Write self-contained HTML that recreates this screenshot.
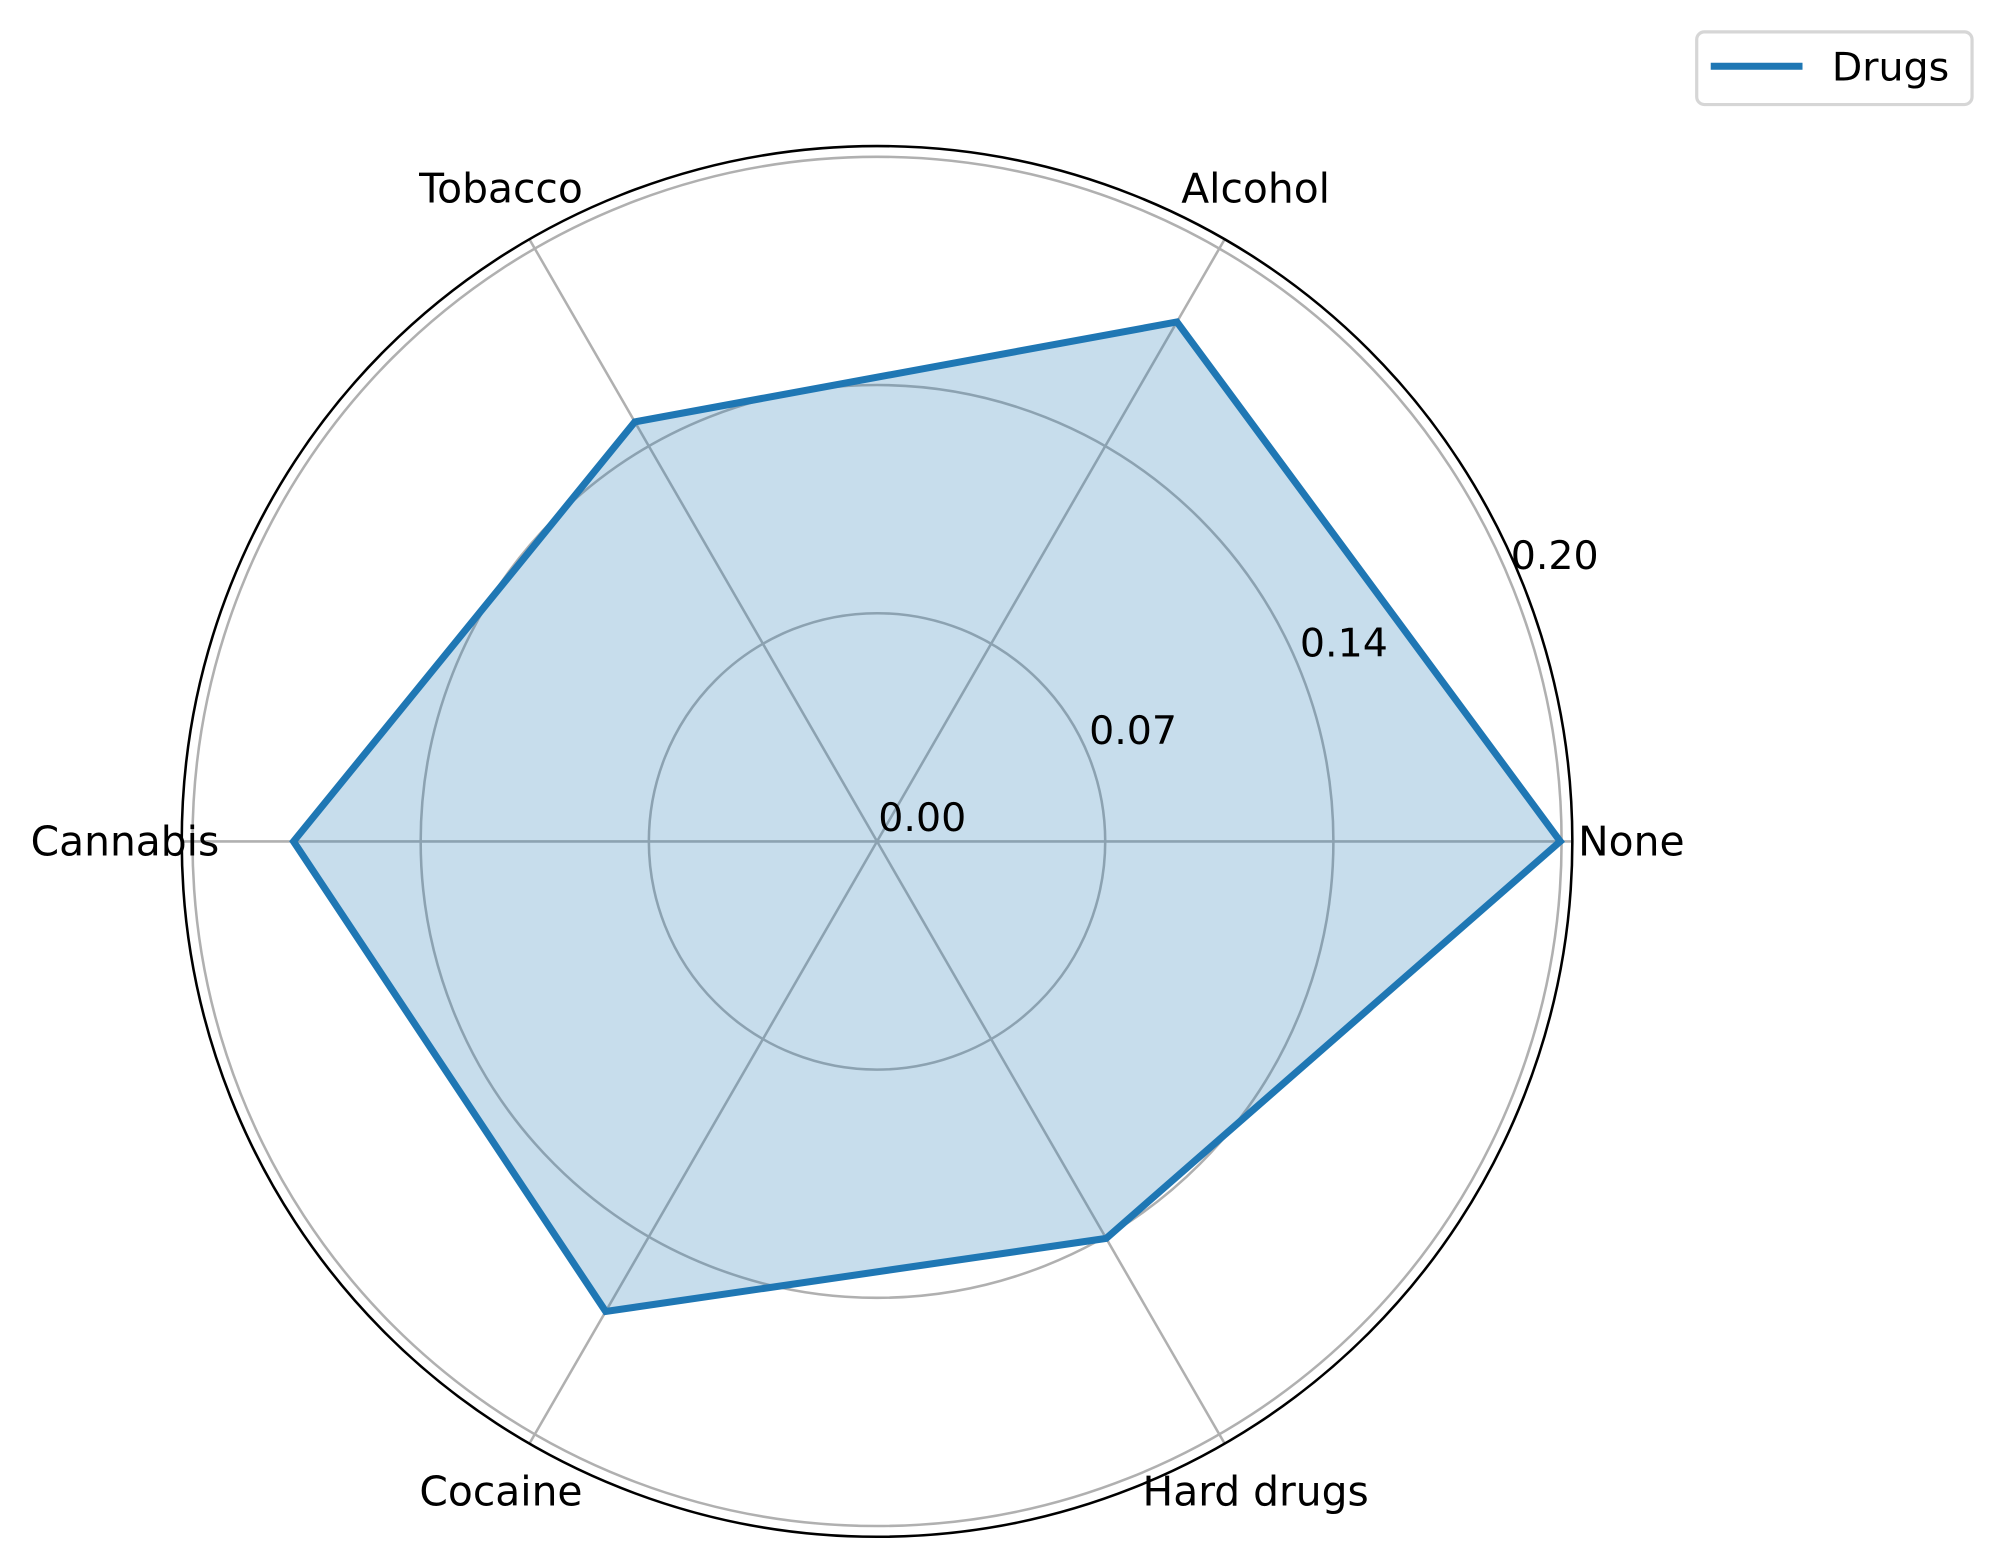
<!DOCTYPE html>
<html><head><meta charset="utf-8"><style>
html,body{margin:0;padding:0;background:#fff;}
svg{display:block;font-family:"DejaVu Sans","Liberation Sans",sans-serif;}
</style></head><body>
<svg id="chart" width="1995" height="1563" viewBox="0 0 1565 1226" preserveAspectRatio="none" xmlns="http://www.w3.org/2000/svg">
<g id="grid"></g>
<g id="series"></g>
<g id="labels"></g>
<g>
<rect x="1331" y="25" width="216" height="57" rx="6" fill="#fff" stroke="#d6d6d6" stroke-width="2.5"/>
<line x1="1342" y1="52" x2="1414" y2="52" stroke="#1f77b4" stroke-width="5.5"/>
<text x="1437" y="63" font-size="31" fill="#000">Drugs</text>
</g>
</svg>
<script>
const categories = ["None","Alcohol","Tobacco","Cannabis","Cocaine","Hard drugs"];
const values = [0.2096,0.184,0.1486,0.179,0.1665,0.1406];
const ringValues = [0.07,0.14,0.21];
const tickLabels = ["0.00","0.07","0.14","0.20"];
const tickValues = [0,0.07,0.14,0.21];

const NS="http://www.w3.org/2000/svg";
const cx=688, cy=660, rPerUnit=537/0.21, rMaxVal=0.2133;
function r(v){return v*rPerUnit;}
function ang(i){return i*2*Math.PI/categories.length;}
function pt(i,v){const a=ang(i);return [cx+r(v)*Math.cos(a), cy-r(v)*Math.sin(a)];}
function mk(tag,attrs,parent){const e=document.createElementNS(NS,tag);for(const k in attrs)e.setAttribute(k,attrs[k]);parent.appendChild(e);return e;}

const grid=document.getElementById('grid');
ringValues.forEach((v,k)=>{
  const c=mk('circle',{cx:cx,cy:cy,r:r(v),fill:'none',stroke:'#b0b0b0','stroke-width':2},grid);
  
  
});
categories.forEach((c,i)=>{
  const [x,y]=pt(i,rMaxVal);
  const l=mk('line',{x1:cx,y1:cy,x2:x,y2:y,stroke:'#b0b0b0','stroke-width':2},grid);
  
  
});
const sp=mk('circle',{cx:cx,cy:cy,r:r(rMaxVal),fill:'none',stroke:'#000','stroke-width':2},grid);



const ser=document.getElementById('series');
const pts=values.map((v,i)=>pt(i,v).join(',')).join(' ');
const poly=mk('polygon',{points:pts,fill:'#1f77b4','fill-opacity':0.25,stroke:'none'},ser);


const line=mk('polygon',{points:pts,fill:'none',stroke:'#1f77b4','stroke-width':5.5,'stroke-linejoin':'miter'},ser);



const lab=document.getElementById('labels');
categories.forEach((c,i)=>{
  const a=ang(i);
  let x, y=cy, anchor='middle';
  const ca=Math.cos(a);
  if(ca>0.9){anchor='start'; x=cx+550;}
  else if(ca<-0.9){anchor='end'; x=cx-516;}
  else {x=cx+(ca>0?297:-295); y=(Math.sin(a)>0)?148:1170;}
  const t=mk('text',{x:x,y:y,'text-anchor':anchor,'dominant-baseline':'central','font-size':32,fill:'#000'},lab);
  t.textContent=c;
  
  
});
const ta=22.5*Math.PI/180;
tickValues.forEach((v,k)=>{
  const x=cx+r(v)*Math.cos(ta)+1, y=cy-r(v)*Math.sin(ta)-8;
  const t=mk('text',{x:x,y:y,'font-size':31,fill:'#000'},lab);
  t.textContent=tickLabels[k];
  
  
});
</script>
</body></html>
